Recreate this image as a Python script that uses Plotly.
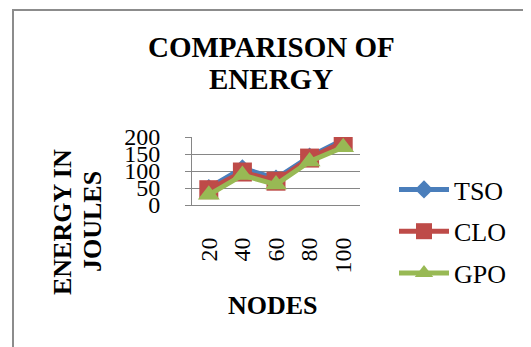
import plotly.graph_objects as go

nodes = ["20", "40", "60", "80", "100"]
tso = [50, 108, 78, 142, 192]
clo = [45, 97, 70, 138, 185]
gpo = [30, 88, 60, 128, 170]
y_ticks = [0, 50, 100, 150, 200]

FONT = "Liberation Serif, Times New Roman, serif"
W, H = 531, 347
OFF = 8  # page body margin offset
# plot area in reference pixels: x 192..360, y 137..205
L = 192 - OFF
T = 137 - OFF
R = W - (360 - OFF)
B = H - (205 - OFF)
PW, PH = W - L - R, H - T - B

def px(x):
    return (x - OFF - L) / PW

def py(y):
    return (H - B - (y - OFF)) / PH

fig = go.Figure()
fig.add_trace(go.Scatter(x=nodes, y=tso, name="TSO", legendgroup="a", mode="lines+markers",
                         line=dict(color="#4a7ebb", width=5),
                         marker=dict(symbol="diamond", size=14, color="#4a7ebb")))
fig.add_trace(go.Scatter(x=nodes, y=clo, name="CLO", legendgroup="b", mode="lines+markers",
                         line=dict(color="#be4b48", width=5),
                         marker=dict(symbol="square", size=19, color="#be4b48")))
fig.add_trace(go.Scatter(x=nodes, y=gpo, name="GPO", legendgroup="c", mode="lines+markers",
                         line=dict(color="#98b954", width=5),
                         marker=dict(symbol="triangle-up", size=19, color="#98b954")))

fig.update_layout(
    width=W, height=H,
    margin=dict(l=L, r=R, t=T, b=B, autoexpand=False),
    paper_bgcolor="white", plot_bgcolor="white",
    font=dict(family=FONT, color="black"),
    showlegend=True,
    legend=dict(x=px(394), y=py(166), xanchor="left", yanchor="top",
                font=dict(size=26, family=FONT), tracegroupgap=5, itemwidth=50,
                bgcolor="rgba(0,0,0,0)", maxheight=300),
    xaxis=dict(type="category", range=[-0.5, 4.5], showgrid=False,
               showline=True, linecolor="#868686", linewidth=1,
               ticks="", tickangle=-90, tickfont=dict(size=24, family=FONT),
               ticklabelstandoff=22),
    yaxis=dict(range=[0, 200], tickvals=y_ticks, showgrid=True, gridcolor="#868686",
               gridwidth=1, showline=True, linecolor="#868686", linewidth=1,
               ticks="outside", ticklen=6, tickcolor="#868686", zeroline=False,
               tickfont=dict(size=24, family=FONT), ticklabelstandoff=20),
    annotations=[
        dict(text="<b>COMPARISON OF</b>", x=px(271), y=py(47), xref="paper", yref="paper",
             showarrow=False, font=dict(size=29, family=FONT), xanchor="center", yanchor="middle"),
        dict(text="<b>ENERGY</b>", x=px(271), y=py(79), xref="paper", yref="paper",
             showarrow=False, font=dict(size=29, family=FONT), xanchor="center", yanchor="middle"),
        dict(text="<b>ENERGY IN</b>", x=px(62), y=py(222), xref="paper", yref="paper",
             showarrow=False, textangle=-90, font=dict(size=26, family=FONT),
             xanchor="center", yanchor="middle"),
        dict(text="<b>JOULES</b>", x=px(92), y=py(222), xref="paper", yref="paper",
             showarrow=False, textangle=-90, font=dict(size=26, family=FONT),
             xanchor="center", yanchor="middle"),
        dict(text="<b>NODES</b>", x=px(273), y=py(305), xref="paper", yref="paper",
             showarrow=False, font=dict(size=26, family=FONT), xanchor="center", yanchor="middle"),
    ],
    shapes=[
        dict(type="rect", xref="paper", yref="paper",
             x0=px(13), x1=px(560), y0=py(10), y1=py(380),
             line=dict(color="#8c8c8c", width=2), fillcolor="rgba(0,0,0,0)", layer="below"),
    ],
)

fig.write_html("out.html")
